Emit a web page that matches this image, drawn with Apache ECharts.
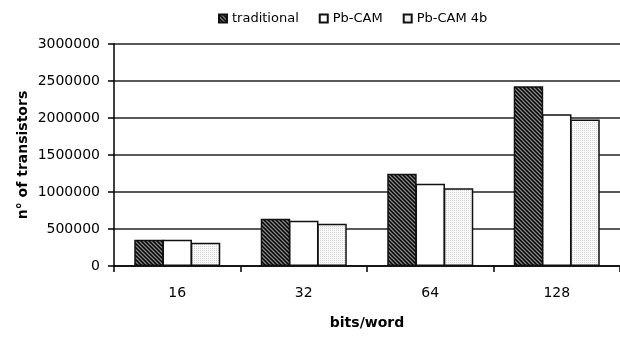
<!DOCTYPE html>
<html>
<head>
<meta charset="utf-8">
<script src="https://cdn.jsdelivr.net/npm/echarts@6/dist/echarts.min.js"></script>
<style>
html,body{margin:0;padding:0;background:#fff;}
#c{width:620px;height:338px;}
</style>
</head>
<body>
<div id="c"></div>
<script>
const categories = ['16', '32', '64', '128'];
const seriesNames = ['traditional', 'Pb-CAM', 'Pb-CAM 4b'];
const traditional = [355000, 640000, 1245000, 2430000];
const pbCam = [355000, 610000, 1110000, 2050000];
const pbCam4b = [315000, 570000, 1050000, 1980000];
const yTicks = [0, 500000, 1000000, 1500000, 2000000, 2500000, 3000000];

function makePattern(fn, size) {
  const c = document.createElement('canvas');
  c.width = size; c.height = size;
  const ctx = c.getContext('2d');
  for (let y = 0; y < size; y++) {
    for (let x = 0; x < size; x++) {
      ctx.fillStyle = fn(x, y);
      ctx.fillRect(x, y, 1, 1);
    }
  }
  return c;
}
const darkHatch = makePattern(function (x, y) {
  const d = ((x - y) % 4 + 4) % 4;
  if (d === 0) return '#000';
  if (d === 1) return '#333';
  if (d === 2) return '#8a8a8a';
  return '#444';
}, 4);
const lightDots = makePattern(function (x, y) {
  return ((x + y) % 2 === 0 && y % 2 === 0) ? '#d4d4d4' : '#fafafa';
}, 4);

const fills = [
  { image: darkHatch, repeat: 'repeat' },
  '#ffffff',
  { image: lightDots, repeat: 'repeat' }
];
const values = [traditional, pbCam, pbCam4b];

const chart = echarts.init(document.getElementById('c'), null, { renderer: 'canvas' });
chart.setOption({
  animation: false,
  backgroundColor: '#fff',
  textStyle: { fontFamily: 'DejaVu Sans', color: '#000' },
  legend: {
    left: 213,
    top: 7,
    itemWidth: 8,
    itemHeight: 8,
    itemGap: 20,
    icon: 'rect',
    textStyle: { fontFamily: 'DejaVu Sans', fontSize: 13, color: '#000' },
    data: seriesNames
  },
  grid: { left: 114, right: -4, top: 44, bottom: 72, containLabel: false },
  xAxis: {
    type: 'category',
    data: categories,
    name: 'bits/word',
    nameLocation: 'middle',
    nameGap: 50,
    nameMoveOverlap: false,
    nameTextStyle: { fontFamily: 'DejaVu Sans', fontWeight: 'bold', fontSize: 14, color: '#000' },
    axisLine: { lineStyle: { color: '#000', width: 1.5 } },
    axisTick: { show: true, length: 6, lineStyle: { color: '#000', width: 1.5 } },
    axisLabel: { fontFamily: 'DejaVu Sans', fontSize: 14, color: '#000', margin: 20 }
  },
  yAxis: {
    type: 'value',
    min: 0,
    max: 3000000,
    interval: 500000,
    name: 'n° of transistors',
    nameLocation: 'middle',
    nameGap: 84,
    nameMoveOverlap: false,
    nameTextStyle: { fontFamily: 'DejaVu Sans', fontWeight: 'bold', fontSize: 14, color: '#000' },
    axisLine: { show: true, lineStyle: { color: '#000', width: 1.5 } },
    axisTick: { show: true, length: 6, lineStyle: { color: '#000', width: 1.5 } },
    splitLine: { show: true, lineStyle: { color: '#222', width: 1.5 } },
    axisLabel: {
      fontFamily: 'DejaVu Sans', fontSize: 14, color: '#000', margin: 14,
      formatter: function (v) { return yTicks.indexOf(v) >= 0 ? String(v) : ''; }
    }
  },
  series: seriesNames.map(function (name, i) {
    return {
      name: name,
      type: 'bar',
      data: values[i],
      barGap: '-4%',
      barCategoryGap: '32%',
      itemStyle: { color: fills[i], borderColor: '#111', borderWidth: 1.5 }
    };
  })
});
</script>
</body>
</html>
